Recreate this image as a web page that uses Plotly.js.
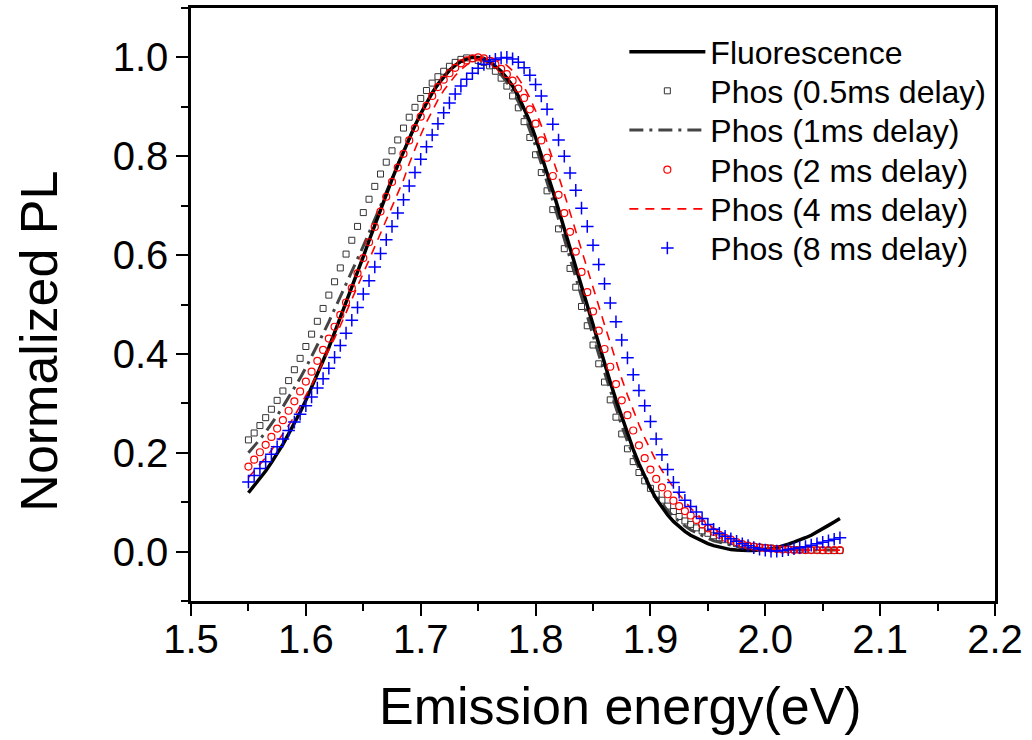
<!DOCTYPE html>
<html>
<head>
<meta charset="utf-8">
<script src="https://cdn.plot.ly/plotly-3.0.1.min.js"></script>
<style>html,body{margin:0;padding:0;background:#fff;}#chart{width:1032px;height:740px;}</style>
</head>
<body>
<div id="chart"></div>
<script>
// Emission energy (eV)
const energy = [
1.550,1.555,1.560,1.565,1.570,1.575,1.580,1.585,1.590,1.595,
1.600,1.605,1.610,1.615,1.620,1.625,1.630,1.635,1.640,1.645,
1.650,1.655,1.660,1.665,1.670,1.675,1.680,1.685,1.690,1.695,
1.700,1.705,1.710,1.715,1.720,1.725,1.730,1.735,1.740,1.745,
1.750,1.755,1.760,1.765,1.770,1.775,1.780,1.785,1.790,1.795,
1.800,1.805,1.810,1.815,1.820,1.825,1.830,1.835,1.840,1.845,
1.850,1.855,1.860,1.865,1.870,1.875,1.880,1.885,1.890,1.895,
1.900,1.905,1.910,1.915,1.920,1.925,1.930,1.935,1.940,1.945,
1.950,1.955,1.960,1.965,1.970,1.975,1.980,1.985,1.990,1.995,
2.000,2.005,2.010,2.015,2.020,2.025,2.030,2.035,2.040,2.045,
2.050,2.055,2.060,2.065];

const fluorescence = [
.119,.133,.147,.163,.180,.198,.217,.238,.259,.282,
.306,.332,.358,.385,.413,.443,.473,.503,.534,.566,
.597,.629,.661,.692,.723,.753,.782,.810,.837,.862,
.886,.908,.928,.946,.961,.974,.984,.992,.997,1.000,
1.000,.998,.992,.983,.972,.958,.942,.922,.898,.870,
.838,.803,.767,.730,.692,.653,.613,.573,.535,.496,
.457,.418,.380,.343,.307,.272,.238,.207,.178,.152,
.128,.107,.089,.074,.061,.050,.041,.033,.027,.021,
.016,.012,.009,.006,.004,.003,.002,.002,.002,.003,
.004,.006,.008,.011,.015,.019,.023,.028,.033,.039,
.046,.053,.060,.067];

const phos05 = [
.226,.240,.255,.271,.288,.306,.325,.346,.368,.391,
.415,.440,.466,.492,.519,.546,.574,.602,.630,.658,
.686,.713,.739,.764,.788,.811,.833,.857,.879,.899,
.917,.933,.948,.961,.972,.982,.990,.996,.999,.998,
.994,.990,.983,.972,.958,.942,.922,.898,.870,.838,
.803,.767,.730,.692,.653,.613,.573,.535,.496,.457,
.418,.380,.343,.307,.272,.238,.208,.182,.160,.143,
.128,.116,.104,.092,.081,.071,.062,.055,.048,.042,
.037,.032,.028,.024,.020,.016,.013,.011,.010,.009,
.008,.007,.006,.005,.005,.004,.004,.003,.003,.003,
.002,.002,.002,.002];

const phos1 = [
.200,.213,.227,.242,.258,.275,.293,.312,.331,.351,
.372,.394,.417,.441,.465,.490,.515,.541,.566,.592,
.618,.645,.672,.698,.725,.753,.782,.810,.837,.862,
.886,.908,.928,.945,.961,.974,.984,.992,.997,1.000,
.997,.995,.988,.978,.965,.950,.932,.910,.884,.854,
.821,.785,.749,.711,.673,.633,.593,.554,.516,.477,
.438,.399,.362,.325,.290,.255,.223,.195,.169,.148,
.128,.112,.097,.083,.071,.061,.052,.044,.038,.032,
.027,.022,.019,.015,.012,.010,.008,.007,.006,.005,
.005,.004,.004,.003,.003,.003,.003,.003,.003,.003,
.003,.003,.003,.003];

const phos2 = [
.172,.186,.201,.216,.232,.249,.266,.285,.304,.324,
.344,.364,.386,.408,.431,.455,.479,.504,.533,.563,
.594,.626,.657,.688,.718,.748,.777,.805,.832,.857,
.880,.902,.922,.940,.955,.968,.979,.988,.994,.998,
1.000,.998,.993,.986,.977,.966,.953,.937,.918,.895,
.866,.832,.797,.760,.722,.685,.647,.607,.566,.525,
.486,.447,.410,.374,.339,.306,.276,.245,.215,.189,
.166,.147,.130,.116,.103,.092,.082,.073,.064,.055,
.047,.040,.034,.028,.024,.019,.015,.012,.010,.008,
.007,.006,.005,.004,.004,.003,.003,.003,.003,.003,
.003,.003,.003,.003];

const phos4 = [
.150,.163,.176,.190,.205,.221,.237,.255,.274,.294,
.315,.337,.360,.383,.407,.432,.457,.483,.509,.536,
.563,.590,.617,.644,.671,.697,.722,.752,.785,.815,
.843,.869,.893,.914,.933,.949,.963,.975,.985,.992,
.997,1.000,1.000,.997,.992,.984,.973,.958,.940,.918,
.892,.862,.829,.795,.760,.724,.687,.649,.611,.573,
.535,.497,.459,.422,.385,.350,.317,.286,.257,.230,
.205,.183,.164,.146,.130,.115,.101,.088,.077,.066,
.056,.047,.039,.032,.026,.021,.017,.013,.010,.008,
.006,.005,.004,.003,.003,.003,.003,.003,.003,.003,
.003,.003,.003,.003];

const phos8 = [
.141,.154,.168,.182,.197,.212,.228,.245,.262,.278,
.295,.313,.331,.350,.371,.393,.417,.442,.468,.494,
.521,.548,.576,.603,.631,.658,.685,.712,.740,.767,
.794,.819,.843,.866,.888,.908,.926,.942,.956,.968,
.978,.986,.992,.996,.999,1.000,.997,.990,.979,.964,
.945,.922,.895,.865,.833,.800,.766,.731,.695,.658,
.620,.581,.542,.503,.465,.428,.392,.358,.326,.295,
.263,.228,.196,.166,.140,.120,.104,.091,.080,.067,
.055,.045,.037,.031,.026,.021,.016,.012,.008,.005,
.003,.001,.001,.002,.004,.006,.008,.010,.013,.016,
.019,.022,.025,.028];

const seriesNames = ["Fluorescence","Phos (0.5ms delay)","Phos (1ms delay)","Phos (2 ms delay)","Phos (4 ms delay)","Phos (8 ms delay)"];
const xTitle = "Emission energy(eV)";
const yTitle = "Normalized PL";

const FONT = "Arial, 'Liberation Sans', sans-serif";

const traces = [
  {x: energy, y: phos05, name: seriesNames[1], legend: "legend2", mode: "markers", type: "scatter",
   marker: {symbol: "square-open", size: 6, color: "#333333", line: {width: 1, color: "#333333"}}},
  {x: energy, y: phos1, name: seriesNames[2], legend: "legend3", mode: "lines", type: "scatter",
   line: {color: "#444444", width: 3, dash: "14px,6px,3px,6px"}},
  {x: energy, y: fluorescence, name: seriesNames[0], legend: "legend", mode: "lines", type: "scatter",
   line: {color: "#000000", width: 3.5}},
  {x: energy, y: phos2, name: seriesNames[3], legend: "legend4", mode: "markers", type: "scatter",
   marker: {symbol: "circle-open", size: 7, color: "#ff0000", line: {width: 1.2, color: "#ff0000"}}},
  {x: energy, y: phos4, name: seriesNames[4], legend: "legend5", mode: "lines", type: "scatter",
   line: {color: "#ff0000", width: 1.6, dash: "9px,7px"}},
  {x: energy, y: phos8, name: seriesNames[5], legend: "legend6", mode: "markers", type: "scatter",
   marker: {symbol: "cross-thin-open", size: 9, color: "#0000ff", line: {width: 1.5, color: "#0000ff"}}}
];

function legendAt(yPaper) {
  return {x: 0.539, y: yPaper, xanchor: "left", yanchor: "middle",
          font: {family: FONT, size: 32, color: "#000"},
          bgcolor: "rgba(0,0,0,0)", borderwidth: 0, itemwidth: 76};
}

const layout = {
  width: 1032, height: 740,
  margin: {l: 191, r: 37, t: 8, b: 139},
  paper_bgcolor: "#ffffff", plot_bgcolor: "#ffffff",
  font: {family: FONT, color: "#000000"},
  showlegend: true,
  legend: legendAt(0.926),
  legend2: legendAt(0.860),
  legend3: legendAt(0.794),
  legend4: legendAt(0.727),
  legend5: legendAt(0.661),
  legend6: legendAt(0.595),
  xaxis: {range: [1.5, 2.2], tick0: 1.5, dtick: 0.1, tickformat: ".1f",
          ticks: "outside", ticklen: 12, tickwidth: 2, tickcolor: "#000",
          ticklabelstandoff: -11,
          showline: true, linewidth: 2.5, linecolor: "#000", mirror: true,
          showgrid: false, zeroline: false,
          minor: {dtick: 0.05, ticks: "outside", ticklen: 7, tickwidth: 2, tickcolor: "#000", showgrid: false},
          tickfont: {family: FONT, size: 40, color: "#000"}},
  yaxis: {range: [-0.1, 1.1], tick0: 0, dtick: 0.2, tickformat: ".1f",
          ticks: "outside", ticklen: 12, tickwidth: 2, tickcolor: "#000",
          showline: true, linewidth: 2.5, linecolor: "#000", mirror: true,
          showgrid: false, zeroline: false,
          minor: {dtick: 0.1, tick0: 0, ticks: "outside", ticklen: 7, tickwidth: 2, tickcolor: "#000", showgrid: false},
          tickfont: {family: FONT, size: 40, color: "#000"}},
  xaxis2: {overlaying: "x", side: "top", anchor: "y", range: [1.5, 2.2], tick0: 1.5, dtick: 0.05,
           ticks: "inside", ticklen: 4, tickwidth: 1.5, tickcolor: "#000",
           showticklabels: false, showgrid: false, zeroline: false, showline: false},
  yaxis2: {overlaying: "y", side: "right", anchor: "x", range: [-0.1, 1.1], tick0: 0, dtick: 0.1,
           ticks: "inside", ticklen: 4, tickwidth: 1.5, tickcolor: "#000",
           showticklabels: false, showgrid: false, zeroline: false, showline: false},
  annotations: [
    {text: xTitle, xref: "paper", yref: "paper", x: 0.5336, y: -0.1771,
     xanchor: "center", yanchor: "middle", showarrow: false,
     font: {family: FONT, size: 52, color: "#000"}},
    {text: yTitle, xref: "paper", yref: "paper", x: -0.1895, y: 0.4384, textangle: -90,
     xanchor: "center", yanchor: "middle", showarrow: false,
     font: {family: FONT, size: 52, color: "#000"}}
  ]
};

Plotly.newPlot("chart", traces, layout, {displayModeBar: false, responsive: false});
</script>
</body>
</html>
